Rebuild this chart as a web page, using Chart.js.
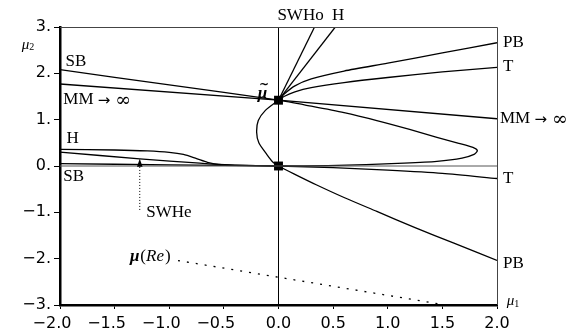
<!DOCTYPE html>
<html>
<head>
<meta charset="utf-8">
<script src="https://cdn.jsdelivr.net/npm/chart.js@4/dist/chart.umd.min.js"></script>
<style>
  body { margin: 0; background: #fff; }
  #wrap { width: 568px; height: 333px; }
</style>
</head>
<body>
<div id="wrap"><canvas id="diagrama"></canvas></div>
<script>
// Ticks de los ejes (mu1 horizontal, mu2 vertical)
var xTicks = [-2, -1.5, -1, -0.5, 0, 0.5, 1, 1.5, 2];
var xTickLabels = ['−2.0', '−1.5', '−1.0', '−0.5', '0.0', '0.5', '1.0', '1.5', '2.0'];
var yTicks = [-3, -2, -1, 0, 1, 2, 3];
var yTickLabels = ['−3.', '−2.', '−1.', '0.', '1.', '2.', '3.'];

// Rectas mu1 = 0 y mu2 = 0
var ejeHX = [-2, 2];
var ejeHY = [0, 0];
var ejeVX = [0, 0];
var ejeVY = [-3, 3];

// SB: rama superior hasta mu~ y la nariz que vuelve al origen
var sbX = [-2.0, -1.0, 0.0, 0.3, 0.6, 0.9, 1.2, 1.45, 1.65, 1.78, 1.82, 1.79, 1.68, 1.45, 1.15, 0.8, 0.45, 0.0];
var sbY = [2.08, 1.75, 1.42, 1.29, 1.15, 0.98, 0.79, 0.62, 0.49, 0.40, 0.33, 0.25, 0.17, 0.10, 0.06, 0.03, 0.01, 0.0];

// SB inferior (casi pegada a mu2 = 0)
var sbBajoX = [-2.0, -1.0, 0.0];
var sbBajoY = [0.05, 0.025, 0.0];

// MM -> infinito, pasa por mu~
var mmX = [-2.0, 0.0, 2.0];
var mmY = [1.77, 1.42, 1.02];

// Lazo de mu~ al origen y PB inferior
var pbBajoX = [0.0, -0.12, -0.185, -0.2, -0.18, -0.11, -0.05, 0.0, 0.15, 0.35, 0.6, 0.9, 1.25, 1.6, 2.0];
var pbBajoY = [1.42, 1.2, 0.98, 0.73, 0.5, 0.26, 0.08, 0.0, -0.18, -0.41, -0.68, -0.98, -1.33, -1.66, -2.04];

// T inferior desde el origen
var tBajoX = [0.0, 0.5, 1.0, 1.5, 2.0];
var tBajoY = [0.0, -0.035, -0.09, -0.16, -0.27];

// PB y T superiores desde mu~
var pbAltoX = [0.0, 0.05, 0.15, 0.3, 0.6, 1.0, 1.5, 2.0];
var pbAltoY = [1.42, 1.55, 1.73, 1.88, 2.05, 2.22, 2.44, 2.66];
var tAltoX = [0.0, 0.05, 0.15, 0.3, 0.6, 1.0, 1.5, 2.0];
var tAltoY = [1.42, 1.5, 1.6, 1.69, 1.8, 1.91, 2.03, 2.13];

// SWHo y H hacia arriba
var swhoX = [0.0, 0.33];
var swhoY = [1.42, 3.0];
var hAltoX = [0.0, 0.52];
var hAltoY = [1.42, 3.0];

// H y SWHe a la izquierda
var hX = [-2.0, -1.5, -1.2, -1.0, -0.87, -0.75, -0.65, -0.55, -0.4, 0.0];
var hY = [0.36, 0.345, 0.325, 0.295, 0.25, 0.16, 0.08, 0.035, 0.015, 0.0];
var sweX = [-2.0, -1.27, -0.72, -0.6, -0.4, 0.0];
var sweY = [0.30, 0.155, 0.06, 0.04, 0.02, 0.0];

// Flecha SWHe (punta sobre la curva) y su linea punteada
var flechaPunta = [-1.27, 0.155];
var flechaX = [-1.27, -1.27];
var flechaY = [-0.02, -0.97];

// Trayectoria mu(Re)
var reX = [-0.92, 1.48];
var reY = [-2.04, -2.98];

// Puntos especiales: mu~ y origen
var especialesX = [0.0, 0.0];
var especialesY = [1.42, 0.0];

function puntos(xs, ys) {
  return xs.map(function(x, i) { return { x: x, y: ys[i] }; });
}

function curva(xs, ys, extra) {
  var d = {
    data: puntos(xs, ys),
    showLine: true,
    borderColor: '#000',
    borderWidth: 1.3,
    pointRadius: 0,
    tension: 0.25,
    fill: false
  };
  for (var k in extra) d[k] = extra[k];
  return d;
}

var SERIF = '"Liberation Serif", "DejaVu Serif", serif';

// Textos sobre el diagrama (coordenadas mu1, mu2)
var etiquetas = [
  { t: 'SB', x: -1.95, y: 2.25 },
  { t: 'MM', x: -1.97, y: 1.43, flecha: true },
  { t: 'H', x: -1.94, y: 0.6 },
  { t: 'SB', x: -1.97, y: -0.23 },
  { t: 'SWHe', x: -1.21, y: -1.01 },
  { t: 'SWHo', x: -0.01, y: 3.24 },
  { t: 'H', x: 0.49, y: 3.24 },
  { t: 'PB', x: 2.055, y: 2.66 },
  { t: 'T', x: 2.055, y: 2.14 },
  { t: 'MM', x: 2.027, y: 1.02, flecha: true },
  { t: 'T', x: 2.055, y: -0.28 },
  { t: 'PB', x: 2.055, y: -2.11 }
];

var marco = {
  id: 'marco',
  afterDatasetsDraw: function(chart) {
    var ctx = chart.ctx;
    var a = chart.chartArea;
    var sx = chart.scales.x;
    var sy = chart.scales.y;
    ctx.save();

    // borde superior y derecho
    ctx.strokeStyle = '#444';
    ctx.lineWidth = 1;
    ctx.beginPath();
    ctx.moveTo(a.left, a.top + 0.5);
    ctx.lineTo(a.right + 0.5, a.top + 0.5);
    ctx.lineTo(a.right + 0.5, a.bottom);
    ctx.stroke();

    // punta de flecha SWHe
    var px = sx.getPixelForValue(flechaPunta[0]);
    var py = sy.getPixelForValue(flechaPunta[1]);
    ctx.fillStyle = '#000';
    ctx.beginPath();
    ctx.moveTo(px, py);
    ctx.lineTo(px - 2.8, py + 8);
    ctx.lineTo(px + 2.8, py + 8);
    ctx.closePath();
    ctx.fill();

    // textos
    ctx.textBaseline = 'middle';
    ctx.textAlign = 'left';
    etiquetas.forEach(function(e) {
      var ex = sx.getPixelForValue(e.x);
      var ey = sy.getPixelForValue(e.y);
      ctx.font = '17px ' + SERIF;
      ctx.fillText(e.t, ex, ey);
      if (e.flecha) {
        ex += ctx.measureText(e.t + ' ').width;
        ctx.font = '15px "DejaVu Sans"';
        ctx.fillText('→', ex, ey + 1);
        ex += ctx.measureText('→').width + 5;
        ctx.font = '19px "DejaVu Serif"';
        ctx.fillText('∞', ex, ey + 1);
      }
    });

    // mu con tilde
    var mx = sx.getPixelForValue(-0.19);
    var my = sy.getPixelForValue(1.56);
    ctx.font = 'bold italic 17px ' + SERIF;
    var w = ctx.measureText('μ').width;
    ctx.fillText('μ', mx, my);
    ctx.textAlign = 'center';
    ctx.font = 'bold 12px "DejaVu Sans"';
    ctx.fillText('~', mx + w / 2 + 1.5, my - 9);
    ctx.textAlign = 'left';

    // mu(Re)
    var rx = sx.getPixelForValue(-1.36);
    var ry = sy.getPixelForValue(-1.95);
    ctx.font = 'bold italic 17px ' + SERIF;
    ctx.fillText('μ', rx, ry);
    rx += ctx.measureText('μ').width + 1;
    ctx.font = '17px ' + SERIF;
    ctx.fillText('(', rx, ry);
    rx += ctx.measureText('(').width;
    ctx.font = 'italic 17px ' + SERIF;
    ctx.fillText('Re', rx, ry);
    rx += ctx.measureText('Re').width + 1;
    ctx.font = '17px ' + SERIF;
    ctx.fillText(')', rx, ry);

    // nombres de los ejes
    function nombreEje(sub, x, y) {
      var qx = sx.getPixelForValue(x);
      var qy = sy.getPixelForValue(y);
      ctx.font = 'italic 15px ' + SERIF;
      ctx.fillText('μ', qx, qy);
      var ww = ctx.measureText('μ').width;
      ctx.font = '10px ' + SERIF;
      ctx.fillText(sub, qx + ww, qy + 3);
    }
    nombreEje('2', -2.35, 2.62);
    nombreEje('1', 2.09, -2.92);

    ctx.restore();
  }
};

var ctx = document.getElementById('diagrama').getContext('2d');
var diagrama = new Chart(ctx, {
  type: 'scatter',
  data: {
    datasets: [
      curva(ejeHX, ejeHY, { borderColor: '#555', borderWidth: 1, tension: 0 }),
      curva(ejeVX, ejeVY, { borderWidth: 1, tension: 0 }),
      curva(sbX, sbY),
      curva(sbBajoX, sbBajoY),
      curva(mmX, mmY, { tension: 0 }),
      curva(pbBajoX, pbBajoY),
      curva(tBajoX, tBajoY),
      curva(pbAltoX, pbAltoY),
      curva(tAltoX, tAltoY),
      curva(swhoX, swhoY, { tension: 0 }),
      curva(hAltoX, hAltoY, { tension: 0 }),
      curva(hX, hY),
      curva(sweX, sweY),
      curva(flechaX, flechaY, { borderWidth: 1, borderDash: [1, 2], tension: 0 }),
      curva(reX, reY, { borderWidth: 1.3, borderDash: [2, 7], tension: 0 }),
      {
        data: puntos(especialesX, especialesY),
        pointStyle: 'rect',
        pointRadius: 6.3,
        pointBorderWidth: 0,
        pointBackgroundColor: '#000',
        showLine: false
      }
    ]
  },
  options: {
    responsive: true,
    maintainAspectRatio: false,
    animation: false,
    events: [],
    layout: { padding: { top: 27, right: 71, left: 0, bottom: 0 } },
    plugins: {
      legend: { display: false },
      tooltip: { enabled: false }
    },
    scales: {
      x: {
        type: 'linear',
        min: -2,
        max: 2,
        afterFit: function(s) { s.height = 28; },
        afterBuildTicks: function(s) {
          s.ticks = xTicks.map(function(v) { return { value: v }; });
        },
        ticks: {
          autoSkip: false,
          maxRotation: 0,
          color: '#000',
          padding: 5,
          font: { family: '"DejaVu Sans"', size: 16 },
          callback: function(value) {
            var txt = xTickLabels[xTicks.indexOf(value)];
            // el signo menos queda colgando a la izquierda
            return value < 0 ? txt + '\u2003' : txt;
          }
        },
        grid: { drawOnChartArea: false, tickLength: 4, color: '#000', lineWidth: 1 },
        border: { color: '#000', width: 2.5 }
      },
      y: {
        type: 'linear',
        min: -3,
        max: 3,
        afterFit: function(s) { s.width = 60; },
        afterBuildTicks: function(s) {
          s.ticks = yTicks.map(function(v) { return { value: v }; });
        },
        ticks: {
          autoSkip: false,
          color: '#000',
          padding: 3,
          font: { family: '"DejaVu Sans"', size: 16 },
          callback: function(value) {
            return yTickLabels[yTicks.indexOf(value)];
          }
        },
        grid: { drawOnChartArea: false, tickLength: 6, color: '#000', lineWidth: 1 },
        border: { color: '#000', width: 2.5 }
      }
    }
  },
  plugins: [marco]
});
</script>
</body>
</html>
